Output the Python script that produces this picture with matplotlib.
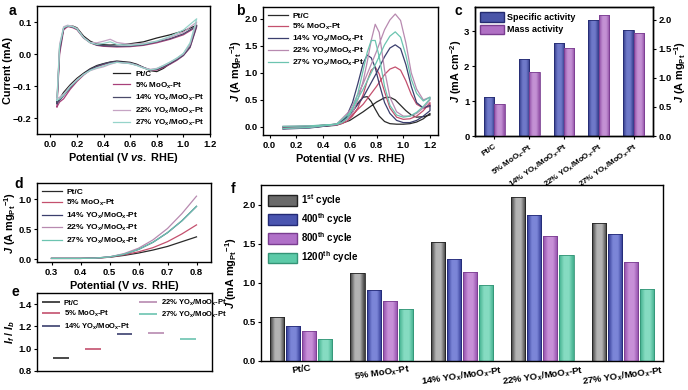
"""Electrocatalyst activity figure: CV, ORR-type scans, activities and stability."""

import matplotlib
matplotlib.use('Agg')
import matplotlib.pyplot as plt
import numpy as np
from matplotlib.colors import LinearSegmentedColormap
from matplotlib.patches import Patch


# ================================ DATA ======================================

samples = ['Pt/C', '5% MoO$_x$-Pt', '14% YO$_x$/MoO$_x$-Pt',
           '22% YO$_x$/MoO$_x$-Pt', '27% YO$_x$/MoO$_x$-Pt']

# (a) CV curves, anodic then cathodic branch
cv_e_up = [0.05, 0.07, 0.10, 0.13, 0.17, 0.20, 0.25, 0.30, 0.35, 0.40, 0.45, 0.50,
           0.60, 0.70, 0.80, 0.90, 1.00, 1.10]
cv_e_down = [1.10, 1.05, 1.00, 0.95, 0.90, 0.85, 0.80, 0.75, 0.70, 0.65, 0.60, 0.50,
             0.45, 0.40, 0.35, 0.30, 0.25, 0.20, 0.15, 0.10, 0.07, 0.05]
cv_up = [
    [-0.150, 0.020, 0.080, 0.086, 0.087, 0.082, 0.056, 0.040, 0.031, 0.029, 0.028, 0.029, 0.032, 0.038, 0.050, 0.060, 0.072, 0.090],
    [-0.165, 0.000, 0.075, 0.086, 0.082, 0.076, 0.050, 0.035, 0.027, 0.024, 0.023, 0.022, 0.023, 0.027, 0.035, 0.046, 0.060, 0.085],
    [-0.155, 0.010, 0.080, 0.088, 0.084, 0.078, 0.052, 0.036, 0.028, 0.026, 0.025, 0.024, 0.025, 0.029, 0.038, 0.048, 0.063, 0.088],
    [-0.140, 0.030, 0.085, 0.090, 0.086, 0.080, 0.052, 0.036, 0.035, 0.040, 0.046, 0.036, 0.030, 0.033, 0.040, 0.052, 0.068, 0.100],
    [-0.145, 0.025, 0.082, 0.088, 0.085, 0.079, 0.051, 0.035, 0.030, 0.033, 0.038, 0.030, 0.027, 0.031, 0.040, 0.055, 0.075, 0.110],
]
cv_down = [
    [0.090, 0.030, 0.000, -0.015, -0.030, -0.045, -0.055, -0.052, -0.042, -0.032, -0.026, -0.022, -0.025, -0.030, -0.036, -0.046, -0.060, -0.076, -0.096, -0.120, -0.140, -0.150],
    [0.085, 0.020, -0.005, -0.020, -0.032, -0.042, -0.050, -0.050, -0.043, -0.035, -0.030, -0.025, -0.027, -0.033, -0.040, -0.050, -0.066, -0.086, -0.110, -0.140, -0.150, -0.165],
    [0.088, 0.022, -0.004, -0.018, -0.030, -0.040, -0.048, -0.049, -0.042, -0.034, -0.028, -0.024, -0.026, -0.031, -0.038, -0.048, -0.063, -0.082, -0.105, -0.130, -0.145, -0.155],
    [0.100, 0.030, 0.000, -0.014, -0.026, -0.036, -0.045, -0.048, -0.043, -0.035, -0.029, -0.026, -0.032, -0.040, -0.045, -0.052, -0.064, -0.080, -0.100, -0.125, -0.135, -0.140],
    [0.110, 0.035, 0.002, -0.013, -0.025, -0.036, -0.046, -0.050, -0.044, -0.036, -0.030, -0.026, -0.030, -0.037, -0.043, -0.051, -0.064, -0.082, -0.102, -0.128, -0.140, -0.145],
]

# (b) ORR-like scans: forward then backward branch
b_e_fwd = [0.10, 0.30, 0.50, 0.60, 0.70, 0.80, 0.86, 0.90, 0.94, 0.98, 1.02, 1.06, 1.10, 1.15, 1.20]
b_j_fwd = [
    [-0.03, -0.01, 0.03, 0.12, 0.28, 0.46, 0.54, 0.55, 0.50, 0.40, 0.30, 0.22, 0.18, 0.19, 0.22],
    [-0.03, -0.01, 0.04, 0.18, 0.42, 0.75, 0.97, 1.07, 1.11, 1.05, 0.85, 0.60, 0.42, 0.35, 0.38],
    [-0.04, -0.02, 0.04, 0.22, 0.55, 1.00, 1.30, 1.46, 1.52, 1.45, 1.15, 0.75, 0.45, 0.35, 0.40],
    [-0.03, -0.01, 0.05, 0.30, 0.80, 1.40, 1.80, 1.98, 2.09, 1.97, 1.55, 1.00, 0.70, 0.50, 0.55],
    [-0.03, -0.01, 0.05, 0.26, 0.70, 1.20, 1.52, 1.68, 1.76, 1.66, 1.32, 0.88, 0.62, 0.48, 0.55],
]
b_e_bwd = [1.20, 1.15, 1.10, 1.05, 1.00, 0.95, 0.90, 0.86, 0.82, 0.79, 0.76, 0.73,
           0.70, 0.66, 0.62, 0.58, 0.54, 0.50, 0.30, 0.10]
b_j_bwd = [
    [0.25, 0.15, 0.09, 0.06, 0.05, 0.05, 0.06, 0.10, 0.20, 0.33, 0.47, 0.56, 0.55, 0.44, 0.28, 0.16, 0.09, 0.05, 0.01, 0.00],
    [0.45, 0.30, 0.20, 0.15, 0.14, 0.18, 0.35, 0.65, 0.98, 1.11, 1.05, 0.85, 0.60, 0.35, 0.20, 0.11, 0.06, 0.04, 0.01, 0.00],
    [0.30, 0.20, 0.12, 0.08, 0.08, 0.12, 0.25, 0.45, 0.80, 1.10, 1.28, 1.33, 1.18, 0.80, 0.45, 0.22, 0.10, 0.05, 0.01, 0.00],
    [0.50, 0.35, 0.25, 0.20, 0.20, 0.28, 0.55, 1.05, 1.75, 1.90, 1.60, 1.20, 0.85, 0.50, 0.26, 0.14, 0.08, 0.04, 0.02, 0.01],
    [0.52, 0.38, 0.27, 0.20, 0.18, 0.22, 0.40, 0.75, 1.30, 1.60, 1.60, 1.38, 1.05, 0.62, 0.32, 0.16, 0.08, 0.05, 0.02, 0.01],
]

# (c) activities
specific_activity = [1.13, 2.20, 2.67, 3.32, 3.03]
mass_activity = [0.55, 1.11, 1.51, 2.09, 1.77]

# (d) Tafel-region scans
d_e = [0.30, 0.35, 0.40, 0.45, 0.50, 0.55, 0.60, 0.65, 0.70, 0.75, 0.80]
d_j = [
    [0.01, 0.01, 0.01, 0.015, 0.03, 0.06, 0.10, 0.15, 0.21, 0.29, 0.37],
    [0.01, 0.01, 0.01, 0.015, 0.03, 0.07, 0.12, 0.19, 0.29, 0.42, 0.57],
    [0.01, 0.01, 0.01, 0.015, 0.035, 0.08, 0.16, 0.28, 0.44, 0.64, 0.88],
    [0.01, 0.01, 0.01, 0.015, 0.035, 0.09, 0.18, 0.32, 0.51, 0.76, 1.05],
    [0.01, 0.01, 0.01, 0.015, 0.035, 0.08, 0.16, 0.28, 0.44, 0.64, 0.88],
]

# (e) If / Ib
if_ib = [0.92, 1.00, 1.13, 1.14, 1.09]

# (f) stability
cycles = ['1$^{st}$ cycle', '400$^{th}$ cycle', '800$^{th}$ cycle', '1200$^{th}$ cycle']
stab = [
    [0.56, 1.12, 1.52, 2.10, 1.77],
    [0.45, 0.91, 1.31, 1.87, 1.62],
    [0.38, 0.77, 1.14, 1.60, 1.27],
    [0.28, 0.67, 0.97, 1.35, 0.92],
]


# ================================ STYLE =====================================

plt.rcParams['font.family'] = ['Liberation Sans', 'DejaVu Sans']
plt.rcParams['font.weight'] = 'bold'
plt.rcParams['axes.labelweight'] = 'bold'
plt.rcParams['mathtext.fontset'] = 'custom'
plt.rcParams['mathtext.rm'] = 'Liberation Sans:bold'
plt.rcParams['mathtext.bf'] = 'Liberation Sans:bold'
plt.rcParams['mathtext.it'] = 'Liberation Sans:italic:bold'
plt.rcParams['mathtext.default'] = 'bf'
plt.rcParams['axes.linewidth'] = 1.0
plt.rcParams['xtick.labelsize'] = 6.8
plt.rcParams['ytick.labelsize'] = 6.8
plt.rcParams['xtick.major.size'] = 2.5
plt.rcParams['ytick.major.size'] = 2.5
plt.rcParams['xtick.major.pad'] = 2
plt.rcParams['ytick.major.pad'] = 1.5
plt.rcParams['axes.labelsize'] = 7.8

line_colors = ['#2a2a2a', '#c4506e', '#3b3f6e', '#b88ab0', '#6cc4b0']
cv_colors = ['#222222', '#a8407a', '#4a4a6a', '#c6a4c4', '#96d4ca']

W, H = 688, 390
potential_label = 'Potential (V $\\mathit{vs.}$ RHE)'
mass_label = '$\\mathit{J}$ (A mg$_{Pt}$$^{-1}$)'


def rect(l, r, t, b):
    return [l / W, 1 - b / H, (r - l) / W, (b - t) / H]


def shade_bars(ax, bars, dark, light, edge):
    cmap = LinearSegmentedColormap.from_list('bar', [dark, light, light, dark])
    grad = np.linspace(0, 1, 64).reshape(1, -1)
    for bar in bars:
        x, y = bar.get_xy()
        im = ax.imshow(grad, cmap=cmap, extent=[x, x + bar.get_width(), y, y + bar.get_height()],
                       aspect='auto', zorder=2, interpolation='bicubic')
        im.set_clip_path(bar)
        bar.set_facecolor('none')
        bar.set_edgecolor(edge)
        bar.set_linewidth(0.6)
        bar.set_zorder(3)


fig = plt.figure(figsize=(W / 100, H / 100), dpi=100)


# ================================ (a) =======================================

ax_a = fig.add_axes(rect(37, 210, 6, 134))
for k in range(5):
    ax_a.plot(cv_e_up + cv_e_down, cv_up[k] + cv_down[k], color=cv_colors[k], lw=0.9,
              label=samples[k])
ax_a.set_xlim(-0.1, 1.2)
ax_a.set_ylim(-0.25, 0.15)
ax_a.set_xticks([0.0, 0.2, 0.4, 0.6, 0.8, 1.0, 1.2])
ax_a.set_yticks([-0.2, -0.1, 0.0, 0.1])
ax_a.set_xlabel(potential_label, labelpad=1)
ax_a.set_ylabel('Current (mA)', labelpad=0)
ax_a.legend(loc='lower right', frameon=False, fontsize=5.8, handlelength=2.2,
            labelspacing=0.3, borderaxespad=0.3, handletextpad=0.6)


# ================================ (b) =======================================

ax_b = fig.add_axes(rect(263, 438, 7, 135))
for k in range(5):
    ax_b.plot(b_e_fwd + b_e_bwd, b_j_fwd[k] + b_j_bwd[k], color=line_colors[k], lw=0.9,
              label=samples[k])
ax_b.set_xlim(-0.05, 1.26)
ax_b.set_ylim(-0.15, 2.22)
ax_b.set_xticks([0.0, 0.2, 0.4, 0.6, 0.8, 1.0, 1.2])
ax_b.set_yticks([0.0, 0.5, 1.0, 1.5, 2.0])
ax_b.set_xlabel(potential_label, labelpad=1)
ax_b.set_ylabel(mass_label, labelpad=0)
ax_b.legend(loc='upper left', frameon=False, fontsize=6, handlelength=2.4,
            labelspacing=0.22, borderaxespad=0.2, handletextpad=0.5)


# ================================ (c) =======================================

ax_c = fig.add_axes(rect(475, 653, 7, 136))
ax_c2 = ax_c.twinx()
xc = np.arange(5)
bw = 0.3
bars_s = ax_c.bar(xc - bw / 2, specific_activity, bw)
shade_bars(ax_c, bars_s, '#2e3785', '#6f79c9', '#242b70')
bars_m = ax_c2.bar(xc + bw / 2, mass_activity, bw)
shade_bars(ax_c2, bars_m, '#8d4aa3', '#c491d4', '#7a3d90')
ax_c.set_xlim(-0.55, 4.55)
ax_c.set_ylim(0, 3.7)
ax_c2.set_ylim(0, 2.22)
ax_c.set_yticks([0, 1, 2, 3])
ax_c2.set_yticks([0.0, 0.5, 1.0, 1.5, 2.0])
ax_c.set_xticks(xc)
ax_c.set_xticklabels(samples, rotation=35, ha='right', rotation_mode='anchor', fontsize=5.8)
ax_c.set_ylabel('$\\mathit{J}$ (mA cm$^{-2}$)', labelpad=0)
ax_c2.set_ylabel(mass_label, labelpad=0)
ax_c.legend(handles=[Patch(facecolor='#4a55a8', edgecolor='#242b70', label='Specific activity'),
                     Patch(facecolor='#b070c4', edgecolor='#7a3d90', label='Mass activity')],
            loc='upper left', frameon=False, fontsize=6.5, handlelength=2.6, handleheight=1.2,
            labelspacing=0.3, borderaxespad=0.2, handletextpad=0.4)


# ================================ (d) =======================================

ax_d = fig.add_axes(rect(37, 211, 183, 262))
for k in range(5):
    ax_d.plot(d_e, d_j[k], color=line_colors[k], lw=0.9, label=samples[k])
ax_d.set_xlim(0.25, 0.85)
ax_d.set_ylim(-0.05, 1.27)
ax_d.set_xticks([0.3, 0.4, 0.5, 0.6, 0.7, 0.8])
ax_d.set_yticks([0.0, 0.5, 1.0])
ax_d.set_xlabel(potential_label, labelpad=1)
ax_d.set_ylabel(mass_label, labelpad=0)
ax_d.legend(loc='upper left', frameon=False, fontsize=6, handlelength=2.4,
            labelspacing=0.28, borderaxespad=0.2, handletextpad=0.5)


# ================================ (e) =======================================

ax_e = fig.add_axes(rect(37, 212, 293, 371))
for k in range(5):
    ax_e.hlines(if_ib[k], k + 1 - 0.25, k + 1 + 0.25, color=line_colors[k], lw=1.2,
                label=samples[k])
ax_e.set_xlim(0.25, 5.75)
ax_e.set_ylim(0.8, 1.5)
ax_e.set_xticks([])
ax_e.set_yticks([0.8, 1.0, 1.2, 1.4])
ax_e.set_ylabel('$\\mathit{I}_{\\mathit{f}}$ / $\\mathit{I}_{\\mathit{b}}$', labelpad=1)
ax_e.legend(loc='upper left', ncol=2, frameon=False, fontsize=5.5, handlelength=2.4,
            labelspacing=0.3, borderaxespad=0.2, handletextpad=0.5, columnspacing=1.2)


# ================================ (f) =======================================

ax_f = fig.add_axes(rect(261, 663, 185, 361))
xf = np.arange(5)
shades = [('#3a3a3a', '#b4b4b4', '#222222'),
          ('#2c3590', '#7c86d8', '#232a75'),
          ('#8e4aa8', '#c890d8', '#7a3d90'),
          ('#3fae8c', '#86dcc2', '#349476')]
solid = ['#6a6a6a', '#4a55b0', '#b070c8', '#5ccaa8']
for i in range(4):
    bars = ax_f.bar(xf + (i - 1.5) * 0.2, stab[i], 0.175)
    shade_bars(ax_f, bars, *shades[i])
ax_f.set_xlim(-0.5, 4.5)
ax_f.set_ylim(0, 2.25)
ax_f.set_yticks([0.0, 0.5, 1.0, 1.5, 2.0])
ax_f.set_xticks(xf)
ax_f.set_xticklabels(samples, rotation=8, fontsize=6.8)
ax_f.tick_params(axis='x', length=0)
ax_f.set_ylabel('$\\mathit{J}$ (mA mg$_{Pt}$$^{-1}$)', labelpad=2)
ax_f.legend(handles=[Patch(facecolor=solid[i], edgecolor=shades[i][2], label=cycles[i])
                     for i in range(4)],
            loc='upper left', frameon=False, fontsize=7, handlelength=3.0, handleheight=1.3,
            labelspacing=0.35, borderaxespad=0.3, handletextpad=0.4)


# ================================ LABELS ====================================

for letter, x, y in [('a', 9, 15), ('b', 236, 15), ('c', 455, 15),
                     ('d', 14, 188), ('e', 12, 296), ('f', 231, 193)]:
    fig.text(x / W, 1 - y / H, letter, fontsize=10, fontweight='bold')

fig.savefig('out.png', dpi=100)
